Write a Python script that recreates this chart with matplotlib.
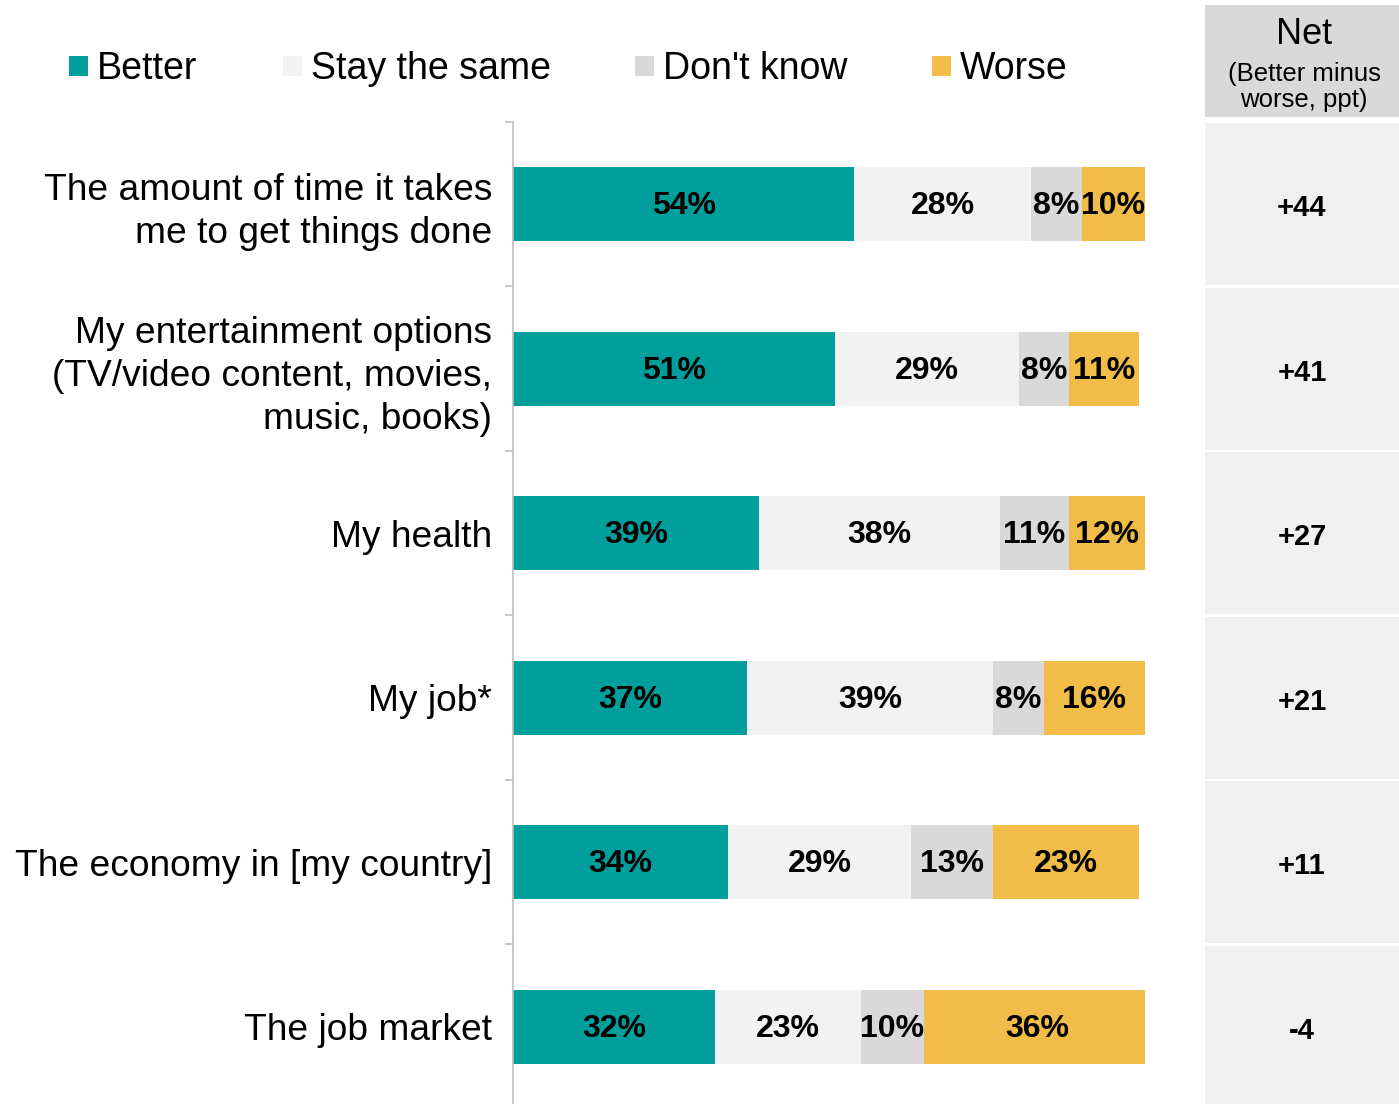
import matplotlib
matplotlib.use("Agg")
import matplotlib.pyplot as plt
from matplotlib.patches import Rectangle
from matplotlib.transforms import offset_copy
import numpy as np

plt.rcParams['font.family'] = ['Liberation Sans', 'DejaVu Sans']

categories = [
    "The amount of time it takes\nme to get things done",
    "My entertainment options\n(TV/video content, movies,\nmusic, books)",
    "My health",
    "My job*",
    "The economy in [my country]",
    "The job market",
]
better = [54, 51, 39, 37, 34, 32]
same = [28, 29, 38, 39, 29, 23]
dont_know = [8, 8, 11, 8, 13, 10]
worse = [10, 11, 12, 16, 23, 36]
net = [44, 41, 27, 21, 11, -4]

series_names = ["Better", "Stay the same", "Don't know", "Worse"]
series_values = [better, same, dont_know, worse]
colors = ["#009f9c", "#f2f2f2", "#d9d9d9", "#f1bd48"]

W, H = 1399, 1104
fig = plt.figure(figsize=(W / 100, H / 100), dpi=100)

def fx(px):
    return px / W

def fy(py):
    return 1 - py / H

# Main stacked-bar axes
ax_left, ax_right = 513, 1145
ax_top, ax_bot = 122, 1109
ax = fig.add_axes([fx(ax_left), fy(ax_bot), fx(ax_right - ax_left), (ax_bot - ax_top) / H])

n = len(categories)
y = np.arange(n)
left = np.zeros(n)
lbl_tr = offset_copy(ax.transData, fig=fig, x=0, y=-2, units='dots')
for name, vals, col in zip(series_names, series_values, colors):
    vals = np.array(vals, dtype=float)
    ax.barh(y, vals, left=left, height=0.45, color=col, edgecolor='none')
    for yi, l, v in zip(y, left, vals):
        ax.text(l + v / 2, yi, f"{int(v)}%", ha='center', va='center',
                fontsize=23, fontweight='bold', color='black', transform=lbl_tr)
    left += vals

ax.set_xlim(0, 100)
ax.set_ylim(n - 0.5, -0.5)
for s in ['top', 'right', 'bottom']:
    ax.spines[s].set_visible(False)
ax.spines['left'].set_color('#bfbfbf')
ax.spines['left'].set_linewidth(1.2)
ax.set_xticks([])
ax.set_yticks(y)
ax.set_yticklabels(categories, fontsize=26.7, linespacing=1.3, ha='right')
ax.tick_params(axis='y', which='major', length=0, pad=15)
ax.set_yticks(np.arange(-0.5, n, 1.0), minor=True)
ax.tick_params(axis='y', which='minor', length=6, width=1.2, color='#bfbfbf')

# Net column
net_left = 1205
ax_net = fig.add_axes([fx(net_left), fy(ax_bot), fx(W - net_left), (ax_bot - ax_top) / H])
ax_net.set_xlim(0, 1)
ax_net.set_ylim(n - 0.5, -0.5)
ax_net.barh(y, [1] * n, height=0.982, color='#f0f0f0', edgecolor='none')
net_tr = offset_copy(ax_net.transData, fig=fig, x=0, y=-4, units='dots')
for yi, v in zip(y, net):
    ax_net.text(0.5, yi, f"{v:+d}", ha='center', va='center',
                fontsize=21, fontweight='bold', color='black', transform=net_tr)
ax_net.axis('off')

# Net header
fig.patches.append(Rectangle((fx(net_left), fy(117)), fx(W - net_left), (117 - 5) / H,
                             transform=fig.transFigure, facecolor='#d9d9d9',
                             edgecolor='none', zorder=0))
fig.text(fx(1304), fy(35), "Net", ha='center', va='center', fontsize=26)
fig.text(fx(1304), fy(87), "(Better minus\nworse, ppt)", ha='center', va='center',
         fontsize=18.5, linespacing=1.15)

# Legend
legend_sq = [69, 283, 635, 932]
sq = 19
leg_y = 66
for x0, name, col in zip(legend_sq, series_names, colors):
    fig.patches.append(Rectangle((fx(x0), fy(leg_y + sq / 2)), fx(sq), sq / H,
                                 transform=fig.transFigure, facecolor=col,
                                 edgecolor='none'))
    fig.text(fx(x0 + 28), fy(leg_y + 3), name, ha='left', va='center', fontsize=27)

fig.savefig("out.png", dpi=100)
